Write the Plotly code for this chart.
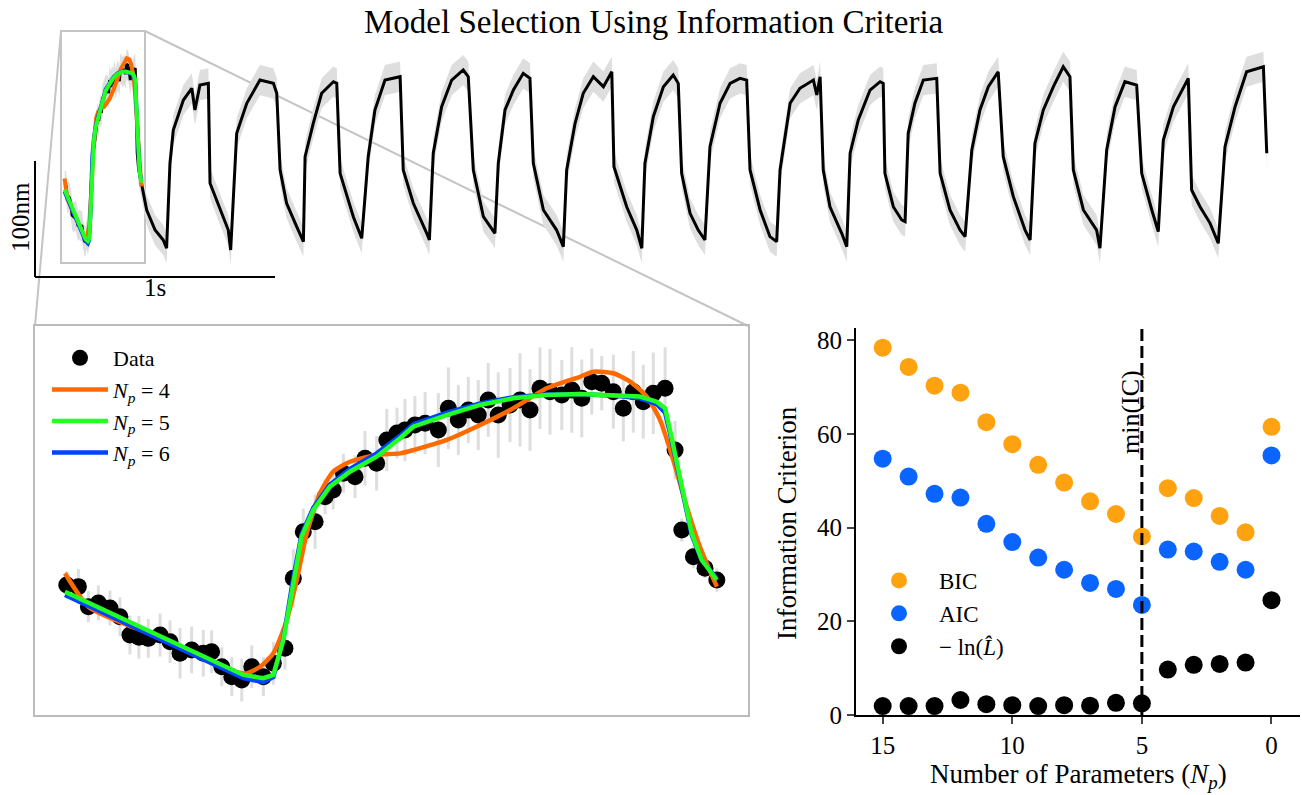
import plotly.graph_objects as go

W, H = 1302, 795
FONT = "Liberation Serif, Times New Roman, serif"

# ---------------- data ----------------
# first oscillation (zoomed panel): time [ms], displacement [nm], error [nm]
data_t_ms = [15.6, 21.3, 26.2, 31.1, 36.8, 41.7, 46.6, 51.0, 55.6, 61.4, 66.3, 71.2, 76.9, 82.6,
             86.7, 91.7, 96.6, 101.5, 106.4, 112.1, 117.0, 122.7, 126.8, 131.7, 137.5, 142.4,
             146.4, 151.4, 157.1, 162.0, 167.7, 172.7, 177.7, 181.6, 186.5, 191.5, 198.0, 202.9,
             207.8, 212.7, 217.6, 222.5, 227.4, 233.2, 238.1, 243.0, 247.9, 252.8, 258.6, 263.5,
             268.4, 273.3, 278.2, 283.9, 288.8, 293.7, 298.6, 303.5, 309.3, 314.2, 317.5, 323.2,
             328.9, 334.7]
data_y_nm = [66.8, 66.0, 55.7, 57.6, 55.0, 50.5, 41.1, 40.0, 39.4, 41.1, 37.7, 31.7, 33.4, 31.7,
             32.5, 24.8, 19.7, 18.0, 24.8, 19.7, 26.6, 34.3, 70.3, 94.2, 99.4, 112.2,
             115.7, 124.3, 122.5, 132.0, 129.4, 141.4, 145.0, 146.5, 149.1, 150.0, 146.5, 157.7,
             151.7, 156.8, 154.2, 162.0, 154.2, 159.4, 162.0, 156.8, 168.0, 166.2, 164.5, 167.1,
             162.8, 171.4, 170.6, 166.2, 157.7, 166.2, 161.1, 165.4, 168.0, 136.2, 95.1, 81.4,
             75.4, 69.4]
data_err_nm = [7, 9, 8, 9, 9, 10, 10, 11, 10, 11, 11, 13, 12, 12,
               11, 10, 10, 11, 11, 10, 11, 11, 15, 12, 14, 9,
               10, 10, 11, 14, 14, 16, 13, 16, 15, 16, 19, 21,
               18, 17, 18, 19, 22, 19, 24, 21, 21, 22, 18, 22,
               20, 17, 14, 19, 17, 21, 19, 21, 21, 15, 6, 6,
               5, 6]

# remainder of the full recording (after the first oscillation)
rest_t_ms = [357, 392, 426, 440, 454, 468, 510, 545, 558, 579, 614,
             621, 663, 697, 707, 732, 774, 829, 885, 899,
             913, 940, 982, 1010, 1017, 1051, 1086, 1135, 1149,
             1163, 1218, 1253, 1280, 1308, 1350, 1413,
             1426, 1468, 1524, 1535, 1551, 1586, 1628, 1676, 1697,
             1718, 1760, 1801, 1808, 1822, 1850, 1885, 1926, 1954,
             1968, 2010, 2065, 2093, 2107, 2142, 2176, 2218, 2260, 2295,
             2304, 2357, 2399, 2420, 2433, 2468, 2510, 2551, 2572,
             2586, 2621, 2655, 2683, 2704, 2746, 2788, 2829, 2857,
             2871, 2913, 2954, 2982, 2996, 3038, 3079, 3135, 3149, 3163,
             3176, 3204, 3253, 3274, 3288, 3322, 3371, 3413, 3426,
             3433, 3468, 3503, 3517, 3530, 3558, 3593, 3649,
             3663, 3704, 3746, 3767, 3795, 3829, 3864, 3905,
             3926, 3968, 4017, 4038, 4058, 4093, 4135, 4176, 4204,
             4218, 4260, 4315, 4329, 4357, 4392, 4433, 4482,
             4503, 4545, 4572, 4593, 4635, 4697,
             4711, 4746, 4788, 4822, 4850, 4892, 4940, 5010, 5024]
rest_y_nm = [45.7, 28.4, 19.8, 12.7, 85.9, 114.6, 140.5, 150.6, 131.9, 153.4, 154.9,
             68.7, 45.7, 28.4, 11.2, 111.8, 137.7, 157.7, 154.9, 146.3,
             80.2, 51.5, 31.3, 18.4, 91.6, 120.4, 146.3, 156.3, 154.9,
             77.3, 39.9, 21.3, 91.6, 131.9, 157.7, 160.6,
             80.2, 51.5, 25.6, 19.8, 94.6, 134.7, 157.7, 166.4, 160.6,
             80.2, 39.9, 28.4, 25.6, 85.9, 131.9, 149.1, 163.5, 159.2,
             85.9, 45.7, 28.4, 14.1, 80.2, 120.4, 146.3, 160.6, 152.0, 164.9,
             83.0, 48.5, 28.4, 12.7, 85.9, 126.1, 152.0, 162.1, 154.9,
             77.3, 42.8, 28.4, 19.8, 100.3, 137.7, 154.9, 159.2, 157.7,
             80.2, 45.7, 22.7, 18.4, 80.2, 137.7, 150.6, 157.7, 144.8, 160.6,
             80.2, 48.5, 25.6, 14.1, 94.6, 123.3, 149.1, 156.3, 154.9,
             77.3, 48.5, 37.1, 35.6, 111.8, 137.7, 157.7, 159.2,
             77.3, 45.7, 28.4, 22.7, 97.4, 131.9, 152.0, 164.9,
             91.6, 57.2, 28.4, 19.8, 103.2, 131.9, 152.0, 169.2, 160.6,
             80.2, 45.7, 28.4, 12.7, 97.4, 134.7, 156.3, 153.4,
             77.3, 45.7, 27.0, 106.0, 134.7, 159.2,
             62.9, 48.5, 34.2, 17.0, 100.3, 134.7, 164.9, 169.2, 94.6]
trace_err_nm = 13  # half-width of the measurement uncertainty band

# model fits of the first oscillation
fit4_t = [14.7, 26.2, 43.3, 63.0, 79.4, 95.7, 103.9, 110.5, 117.0, 123.6, 128.5, 133.4, 139.9,
          146.4, 154.6, 167.7, 179.2, 185.7, 202.1, 218.5, 234.8, 251.2, 267.5, 274.1, 283.9,
          292.1, 300.3, 306.8, 313.3, 319.9, 326.4, 334.7]
fit4_y = [72.9, 55.7, 47.1, 39.4, 30.8, 23.1, 21.4, 24.8, 31.7, 48.8, 69.4, 93.4, 114.0,
          125.1, 130.2, 133.7, 134.5, 136.2, 141.4, 149.1, 157.7, 168.0, 173.9, 176.5, 175.7,
          171.4, 163.7, 151.7, 131.1, 107.1, 86.5, 66.0]
fit5_t = [14.7, 102.3, 112.1, 117.0, 121.9, 126.8, 130.9, 136.6, 144.8, 154.6, 167.7, 179.2,
          185.7, 202.1, 218.5, 234.8, 251.2, 267.5, 283.9, 297.0, 305.2, 309.3, 311.7, 316.6,
          322.4, 327.3, 334.7]
fit5_y = [63.4, 20.6, 18.9, 20.6, 38.6, 69.4, 91.7, 105.4, 117.4, 125.1, 132.8, 142.3,
          148.2, 154.2, 159.4, 162.8, 164.5, 165.0, 164.5, 163.7, 161.1, 157.7, 146.5, 122.5,
          93.4, 79.7, 69.4]
fit6_t = fit5_t
fit6_y = [61.7, 19.0, 16.9, 19.5, 39.0, 70.5, 93.0, 106.5, 118.5, 126.5, 134.5, 143.5,
          149.5, 155.5, 160.2, 163.4, 164.8, 165.0, 164.2, 162.8, 159.8, 155.5, 145.0, 121.0,
          92.5, 79.5, 70.2]

# information criteria
n_params = [15, 14, 13, 12, 11, 10, 9, 8, 7, 6, 5, 4, 3, 2, 1, 0]
bic = [78.4, 74.3, 70.3, 68.8, 62.5, 57.8, 53.4, 49.6, 45.6, 42.9, 38.1, 48.4, 46.3, 42.5, 39.0, 61.5]
aic = [54.7, 50.9, 47.2, 46.4, 40.8, 36.9, 33.6, 31.0, 28.2, 26.9, 23.5, 35.3, 34.9, 32.7, 31.0, 55.4]
neg_lnL = [1.9, 1.9, 1.9, 3.2, 2.3, 2.1, 1.9, 2.1, 2.0, 2.6, 2.5, 9.7, 10.7, 10.9, 11.2, 24.5]
best_np = 5

inset_t = [0, 350]     # ms, zoom window
inset_y = [0, 200]     # nm
scale_t = 1000         # ms scale bar
scale_y = 100          # nm scale bar

# ---------------- styling ----------------
C_FIT4, C_FIT5, C_FIT6 = "#ff6a00", "#22ff22", "#0044ff"
C_BIC, C_AIC = "#ffa20f", "#0a64ff"
GRAY_BAND = "#dedede"
GRAY_BOX = "#c4c4c4"


def fx(px):
    return px / W


def fy(py):
    return 1 - py / H


# top panel pixel mapping
T0_PX, T_PX_PER_MS = 61, 0.24
Y0_PX, Y_PX_PER_NM = 263, 1.16
TOP_L, TOP_R, TOP_T, TOP_B = 30, 1295, 28, 300

trace_t = data_t_ms + rest_t_ms
trace_y = data_y_nm + rest_y_nm
band_x = trace_t + trace_t[::-1]
band_y = [v + trace_err_nm for v in trace_y] + [v - trace_err_nm for v in trace_y[::-1]]

fig = go.Figure()

# ---- top: full recording ----
fig.add_trace(go.Scatter(x=band_x, y=band_y, fill="toself", fillcolor=GRAY_BAND,
                         line=dict(width=0), mode="lines", showlegend=False,
                         hoverinfo="skip", xaxis="x", yaxis="y"))
fig.add_trace(go.Scatter(x=trace_t, y=trace_y, mode="lines", line=dict(color="black", width=3),
                         showlegend=False, xaxis="x", yaxis="y"))
for tt, yy, cc in [(fit4_t, fit4_y, C_FIT4), (fit6_t, fit6_y, C_FIT6), (fit5_t, fit5_y, C_FIT5)]:
    fig.add_trace(go.Scatter(x=tt, y=yy, mode="lines", line=dict(color=cc, width=4),
                             showlegend=False, xaxis="x", yaxis="y"))

# ---- bottom-left: zoomed first oscillation ----
fig.add_trace(go.Scatter(x=data_t_ms, y=data_y_nm, mode="markers", name="Data",
                         marker=dict(color="black", size=17),
                         error_y=dict(type="data", array=data_err_nm, color=GRAY_BAND,
                                      thickness=3, width=0),
                         xaxis="x2", yaxis="y2", legend="legend", legendrank=1, cliponaxis=False))
fig.add_trace(go.Scatter(x=fit4_t, y=fit4_y, mode="lines", name="<i>N</i><sub><i>p</i></sub> = 4",
                         line=dict(color=C_FIT4, width=4.5, shape="spline", smoothing=0.6),
                         xaxis="x2", yaxis="y2", legend="legend", legendrank=2))
fig.add_trace(go.Scatter(x=fit6_t, y=fit6_y, mode="lines", name="<i>N</i><sub><i>p</i></sub> = 6",
                         line=dict(color=C_FIT6, width=4.5),
                         xaxis="x2", yaxis="y2", legend="legend", legendrank=4))
fig.add_trace(go.Scatter(x=fit5_t, y=fit5_y, mode="lines", name="<i>N</i><sub><i>p</i></sub> = 5",
                         line=dict(color=C_FIT5, width=4.5),
                         xaxis="x2", yaxis="y2", legend="legend", legendrank=3))

# ---- right: information criteria ----
for vals, nm, cc, rk in [(bic, "BIC", C_BIC, 1), (aic, "AIC", C_AIC, 2),
                         (neg_lnL, "− ln(<i>L̂</i>)", "black", 3)]:
    fig.add_trace(go.Scatter(x=n_params, y=vals, mode="markers", name=nm,
                             marker=dict(color=cc, size=18), cliponaxis=False,
                             xaxis="x3", yaxis="y3", legend="legend2", legendrank=rk))

IC_TOP = 82.6
axis_common = dict(showgrid=False, zeroline=False, automargin=False)
fig.update_layout(
    width=W, height=H,
    margin=dict(l=0, r=0, t=0, b=0, pad=0, autoexpand=False),
    paper_bgcolor="white", plot_bgcolor="rgba(0,0,0,0)",
    font=dict(family=FONT, color="black", size=22),
    xaxis=dict(domain=[fx(TOP_L), fx(TOP_R)],
               range=[(TOP_L - T0_PX) / T_PX_PER_MS, (TOP_R - T0_PX) / T_PX_PER_MS],
               visible=False, anchor="y", **axis_common),
    yaxis=dict(domain=[fy(TOP_B), fy(TOP_T)],
               range=[(Y0_PX - TOP_B) / Y_PX_PER_NM, (Y0_PX - TOP_T) / Y_PX_PER_NM],
               visible=False, anchor="x", **axis_common),
    xaxis2=dict(domain=[fx(35), fx(748)], range=inset_t, anchor="y2",
                showline=True, mirror=True, linecolor="#bbbbbb", linewidth=2,
                showticklabels=False, ticks="", **axis_common),
    yaxis2=dict(domain=[fy(715), fy(326)], range=inset_y, anchor="x2",
                showline=True, mirror=True, linecolor="#bbbbbb", linewidth=2,
                showticklabels=False, ticks="", **axis_common),
    xaxis3=dict(domain=[fx(856), fx(1300)], range=[16.03, -1.10], anchor="y3",
                tickvals=[15, 10, 5, 0], ticks="outside", ticklen=7, tickwidth=2,
                showline=True, linecolor="black", linewidth=2,
                tickfont=dict(size=25), **axis_common),
    yaxis3=dict(domain=[fy(715), fy(328)], range=[0, IC_TOP], anchor="x3",
                tickvals=[0, 20, 40, 60, 80], ticks="outside", ticklen=7, tickwidth=2,
                showline=True, linecolor="black", linewidth=2,
                tickfont=dict(size=25), **axis_common),
    legend=dict(x=fx(47), y=fy(337), xanchor="left", yanchor="top",
                bgcolor="rgba(0,0,0,0)", font=dict(size=22), itemwidth=56,
                traceorder="normal"),
    legend2=dict(x=fx(859), y=fy(559), xanchor="left", yanchor="top",
                 bgcolor="rgba(0,0,0,0)", font=dict(size=23), itemwidth=70,
                 traceorder="normal"),
    showlegend=True,
)

shapes = []
# zoom window on the top trace
shapes.append(dict(type="rect", xref="x", yref="y", x0=inset_t[0], x1=inset_t[1],
                   y0=inset_y[0], y1=inset_y[1], line=dict(color=GRAY_BOX, width=2),
                   layer="below"))
# connector lines from zoom window to the zoomed panel
shapes.append(dict(type="line", xref="paper", yref="paper", x0=fx(61), y0=fy(31),
                   x1=fx(35), y1=fy(326), line=dict(color=GRAY_BOX, width=2), layer="below"))
shapes.append(dict(type="line", xref="paper", yref="paper", x0=fx(145), y0=fy(31),
                   x1=fx(748), y1=fy(326), line=dict(color=GRAY_BOX, width=2), layer="below"))
# scale bars
sb_t0 = (35 - T0_PX) / T_PX_PER_MS
sb_y0 = (Y0_PX - 277) / Y_PX_PER_NM
shapes.append(dict(type="line", xref="x", yref="y", x0=sb_t0, x1=sb_t0, y0=sb_y0,
                   y1=sb_y0 + scale_y, line=dict(color="black", width=2)))
shapes.append(dict(type="line", xref="x", yref="y", x0=sb_t0, x1=sb_t0 + scale_t, y0=sb_y0,
                   y1=sb_y0, line=dict(color="black", width=2)))
# min(IC) marker
shapes.append(dict(type="line", xref="x3", yref="y3", x0=best_np, x1=best_np, y0=0, y1=IC_TOP,
                   line=dict(color="black", width=3, dash="12px,5px")))
fig.update_layout(shapes=shapes)

ann = [
    dict(text="Model Selection Using Information Criteria", x=fx(654), y=fy(22),
         font=dict(size=33)),
    dict(text="100nm", x=fx(21), y=fy(217), textangle=-90, font=dict(size=25)),
    dict(text="1s", x=fx(155), y=fy(288), font=dict(size=25)),
    dict(text="Information Criterion", x=fx(787), y=fy(523), textangle=-90, font=dict(size=27)),
    dict(text="Number of Parameters (<i>N</i><sub><i>p</i></sub>)", x=fx(1078), y=fy(776),
         font=dict(size=27)),
]
for a in ann:
    a.update(xref="paper", yref="paper", showarrow=False, xanchor="center", yanchor="middle")
fig.update_layout(annotations=ann)
fig.add_annotation(text="min(IC)", xref="x3", yref="y3", x=best_np, y=(715 - 412) / 4.6875,
                   xshift=-12, textangle=-90, showarrow=False, font=dict(size=26),
                   xanchor="center", yanchor="middle")

fig.write_html("out.html")
